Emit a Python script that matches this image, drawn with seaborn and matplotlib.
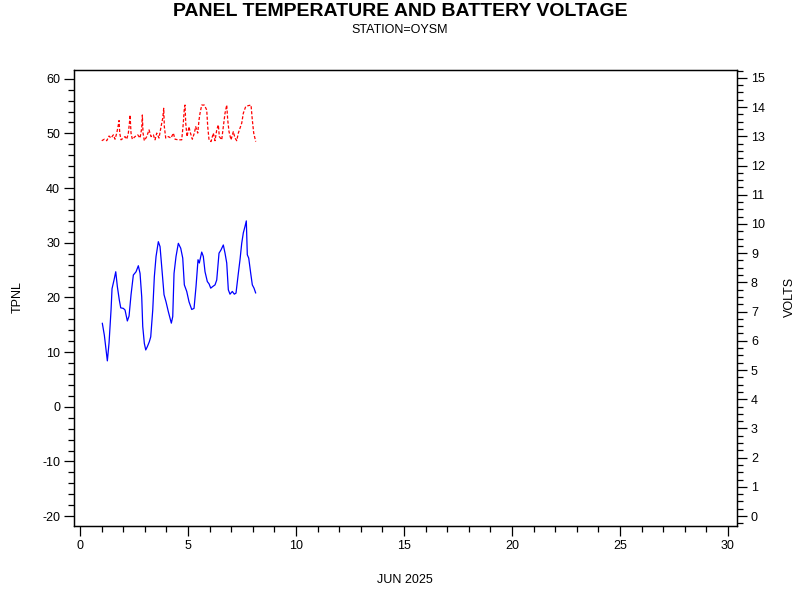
import numpy as np
import pandas as pd
import matplotlib
matplotlib.use("Agg")
import matplotlib.pyplot as plt
import seaborn as sns
from matplotlib.ticker import MultipleLocator

# Panel temperature (day of June 2025, TPNL)
temp_day = [1.03, 1.125, 1.264, 1.343, 1.435, 1.481, 1.574, 1.653, 1.727, 1.819, 1.884, 2.005,
            2.083, 2.19, 2.269, 2.361, 2.468, 2.593, 2.699, 2.778, 2.856, 2.903, 2.977, 3.042,
            3.116, 3.208, 3.273, 3.366, 3.44, 3.519, 3.625, 3.704, 3.782, 3.889, 3.981, 4.088,
            4.227, 4.292, 4.352, 4.444, 4.551, 4.662, 4.755, 4.829, 4.94, 5.046, 5.171, 5.278,
            5.37, 5.463, 5.523, 5.634, 5.708, 5.787, 5.894, 5.972, 6.051, 6.144, 6.25, 6.329,
            6.435, 6.528, 6.634, 6.713, 6.792, 6.866, 6.944, 7.051, 7.144, 7.222, 7.329, 7.407,
            7.486, 7.56, 7.639, 7.699, 7.745, 7.81, 7.903, 7.977, 8.056, 8.134]
temp_val = [15.3, 13.1, 8.4, 11.7, 17.7, 21.6, 23.2, 24.7, 22.0, 19.5, 18.1, 18.0,
            17.7, 15.7, 16.6, 20.5, 24.1, 24.7, 25.8, 24.4, 20.1, 14.7, 11.6, 10.4,
            11.0, 11.9, 12.8, 17.7, 23.8, 27.5, 30.2, 29.3, 25.6, 20.5, 19.2, 17.4,
            15.3, 16.5, 24.4, 27.5, 29.9, 29.0, 27.2, 22.3, 21.1, 19.2, 17.8, 18.0,
            22.0, 26.9, 26.3, 28.3, 27.5, 24.7, 22.9, 22.5, 21.7, 22.0, 22.3, 23.2,
            28.1, 28.7, 29.6, 28.1, 26.3, 21.4, 20.6, 21.1, 20.6, 20.8, 24.4, 26.9,
            29.9, 31.8, 33.0, 34.0, 27.8, 27.2, 24.4, 22.3, 21.7, 20.8]

# Battery voltage (day of June 2025, VOLTS)
volt_day = [1.005, 1.125, 1.236, 1.343, 1.435, 1.542, 1.620, 1.699, 1.773, 1.806, 1.838, 1.898,
            2.005, 2.083, 2.162, 2.236, 2.301, 2.315, 2.361, 2.421, 2.546, 2.671, 2.778, 2.856,
            2.884, 2.917, 2.977, 3.088, 3.194, 3.287, 3.394, 3.472, 3.551, 3.657, 3.750, 3.829,
            3.875, 3.903, 3.968, 4.088, 4.213, 4.319, 4.398, 4.551, 4.708, 4.782, 4.829, 4.861,
            4.894, 4.954, 5.046, 5.093, 5.199, 5.292, 5.356, 5.449, 5.509, 5.556, 5.634, 5.755,
            5.866, 5.912, 5.972, 6.065, 6.171, 6.250, 6.329, 6.403, 6.449, 6.560, 6.634, 6.713,
            6.792, 6.838, 6.898, 6.991, 7.097, 7.176, 7.255, 7.329, 7.407, 7.486, 7.560, 7.671,
            7.792, 7.917, 7.977, 8.042, 8.134]
volt_val = [12.85, 12.90, 12.85, 13.01, 12.94, 13.05, 12.90, 13.11, 13.39, 13.54, 13.11, 12.88,
            12.94, 12.99, 12.90, 13.11, 13.56, 13.73, 13.11, 12.90, 12.99, 13.05, 12.94, 13.28,
            13.73, 13.11, 12.85, 12.99, 13.22, 12.99, 13.05, 12.88, 13.11, 12.94, 13.33, 13.62,
            13.96, 13.33, 12.94, 12.99, 12.94, 13.11, 12.90, 12.88, 12.88, 13.45, 13.96, 14.07,
            13.45, 12.99, 13.33, 13.16, 12.90, 13.11, 13.33, 13.11, 13.56, 13.79, 14.07, 14.07,
            13.90, 13.33, 12.88, 12.82, 13.11, 12.85, 13.22, 13.39, 12.99, 12.88, 13.33, 13.79,
            14.07, 13.56, 13.16, 12.88, 13.16, 12.94, 12.85, 13.11, 13.28, 13.45, 13.79, 14.02,
            14.05, 14.07, 13.56, 13.11, 12.82]

title = "PANEL TEMPERATURE AND BATTERY VOLTAGE"
subtitle = "STATION=OYSM"
xlabel = "JUN 2025"
ylabel_left = "TPNL"
ylabel_right = "VOLTS"

sns.set_theme(style="white")
plt.rcParams['font.family'] = ['Liberation Sans', 'DejaVu Sans']
plt.rcParams['axes.unicode_minus'] = False
plt.rcParams['text.color'] = 'black'

temp_df = pd.DataFrame({"day": temp_day, "tpnl": temp_val})
volt_df = pd.DataFrame({"day": volt_day, "volts": volt_val})

fig = plt.figure(figsize=(8, 6), dpi=100)
ax = fig.add_axes([74/800, 1-526/600, (737-74)/800, (526-70)/600])
ax2 = ax.twinx()

sns.lineplot(data=temp_df, x="day", y="tpnl", ax=ax, color="#0000FF", linewidth=0.9,
             estimator=None, sort=False)
sns.lineplot(data=volt_df, x="day", y="volts", ax=ax2, color="#FF0000", linewidth=0.9,
             estimator=None, sort=False, dashes=False)
ax2.lines[0].set_dashes([2.5, 1.5])

ax.set_xlim(-0.28, 30.42)
ax.set_ylim(-21.8, 61.6)
ax2.set_ylim(-0.34, 15.27)

ax.xaxis.set_major_locator(MultipleLocator(5))
ax.xaxis.set_minor_locator(MultipleLocator(1))
ax.yaxis.set_major_locator(MultipleLocator(10))
ax.yaxis.set_minor_locator(MultipleLocator(2))
ax2.yaxis.set_major_locator(MultipleLocator(1))
ax2.yaxis.set_minor_locator(MultipleLocator(0.25))

for a in (ax, ax2):
    for s in a.spines.values():
        s.set_visible(True)
        s.set_color("black")
        s.set_linewidth(0.9)
    a.grid(False)

ax.tick_params(axis="both", which="major", direction="out", length=7, width=0.9,
               colors="black", labelcolor="black", labelsize=9, pad=3,
               bottom=True, left=True, top=False, right=False)
ax.tick_params(axis="both", which="minor", direction="out", length=4, width=0.9,
               colors="black", bottom=True, left=True, top=False, right=False)
ax2.tick_params(axis="y", which="major", direction="out", length=7, width=0.9,
                colors="black", labelcolor="black", labelsize=9, pad=3, right=True)
ax2.tick_params(axis="y", which="minor", direction="out", length=4, width=0.9,
                colors="black", right=True)

ax.set_xlabel("")
ax.set_ylabel("")
ax2.set_ylabel("")
fig.text(405/800, 1-580/600, xlabel, ha="center", va="center", fontsize=9, color="black")
fig.text(18/800, 1-297/600, ylabel_left, ha="center", va="center", rotation=90,
         fontsize=9, color="black")
fig.text(790/800, 1-297/600, ylabel_right, ha="center", va="center", rotation=90,
         fontsize=9, color="black")

fig.text(0.5, 1-11/600, title, ha="center", va="center", fontsize=14,
         fontweight="bold", color="black")
fig.text(0.5, 1-30/600, subtitle, ha="center", va="center", fontsize=9, color="black")

fig.savefig("out.png", dpi=100, facecolor="white")
